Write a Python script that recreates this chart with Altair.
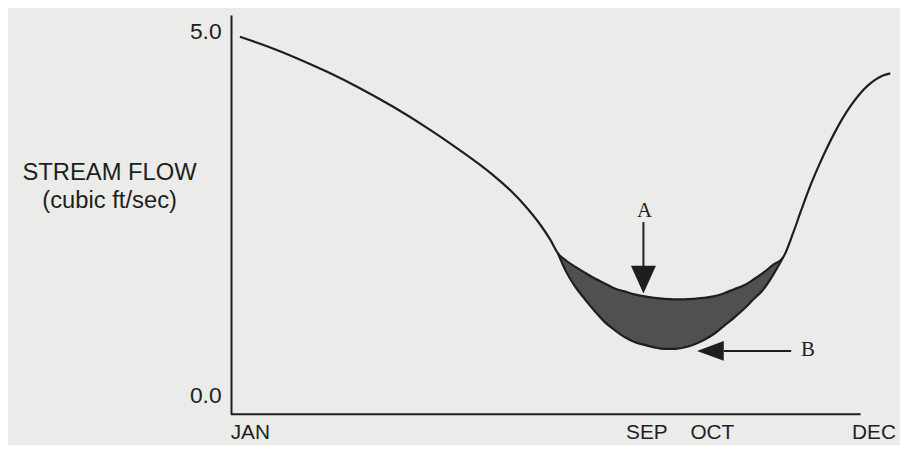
import altair as alt
import pandas as pd

# x: time of year in months (0 = axis origin, 12 = end of the axis line)
# y: stream flow (cubic ft/sec)

# falling limb of the hydrograph, before the shaded low-flow period
pre_t = [0.170, 0.699, 1.209, 1.833, 2.457, 3.099, 3.723, 4.346, 4.989, 5.329, 5.612, 5.896, 6.085]
pre_v = [4.932, 4.798, 4.651, 4.449, 4.224, 3.965, 3.686, 3.380, 3.033, 2.817, 2.602, 2.347, 2.143]

# low-flow period: curve A (upper) and curve B (lower)
shade_t = [6.236, 6.368, 6.557, 6.746, 6.935, 7.124, 7.313, 7.502, 7.691, 7.880, 8.069, 8.258,
           8.447, 8.636, 8.825, 9.013, 9.202, 9.391, 9.580, 9.769, 9.958, 10.147, 10.336, 10.525]
curve_a = [1.948, 1.866, 1.771, 1.689, 1.608, 1.540, 1.471, 1.431, 1.390, 1.362, 1.342, 1.328,
           1.322, 1.322, 1.328, 1.342, 1.362, 1.403, 1.458, 1.512, 1.594, 1.689, 1.798, 1.900]
curve_b = [1.948, 1.730, 1.499, 1.322, 1.158, 1.008, 0.899, 0.804, 0.736, 0.695, 0.661, 0.640,
           0.640, 0.661, 0.702, 0.763, 0.845, 0.954, 1.063, 1.185, 1.322, 1.458, 1.662, 1.900]

# rising limb after the low-flow period
post_t = [10.714, 10.865, 11.035, 11.187, 11.338, 11.508, 11.659, 11.810, 11.980, 12.131, 12.283, 12.415, 12.566]
post_v = [2.234, 2.540, 2.871, 3.132, 3.372, 3.617, 3.813, 3.982, 4.142, 4.256, 4.343, 4.396, 4.428]

# axes
month_labels = ["JAN", "SEP", "OCT", "DEC"]
month_pos = [0.359, 7.918, 9.165, 12.245]
x_axis_end = 12.0
y_ticks = [0.0, 5.0]
y_min, y_max = -0.259, 5.232
y_title = ["STREAM FLOW", "(cubic ft/sec)"]

# annotations
ann_labels = ["A", "B"]
ann_t = [7.880, 10.998]
ann_v = [2.534, 0.627]
shaft_t = [7.861, 9.392]
shaft_t2 = [7.861, 10.677]
shaft_v = [2.384, 0.613]
shaft_v2 = [1.757, 0.613]
head_a = {"t": [7.861], "v": [1.594]}
head_b = {"t": [9.137], "v": [0.613]}

INK = "#1e1e1e"
BG = "#ebebe9"

label_expr = " : ".join(f"datum.value == {p} ? '{l}'" for p, l in zip(month_pos, month_labels)) + " : ''"

x_enc = alt.X(
    "t:Q",
    scale=alt.Scale(domain=[0, 12.6], nice=False, zero=False),
    axis=alt.Axis(
        values=month_pos, labelExpr=label_expr, title=None, ticks=False, tickSize=0,
        grid=False, domain=False, labelFont="Liberation Sans",
        labelFontSize=21, labelColor=INK, labelPadding=7, labelOverlap=False,
        labelBound=False, labelFlush=False,
    ),
)
y_enc = alt.Y(
    "v:Q",
    scale=alt.Scale(domain=[y_min, y_max], nice=False, zero=False),
    axis=alt.Axis(
        values=y_ticks, format=".1f", ticks=False, tickSize=0, grid=False,
        domainColor=INK, domainWidth=2, labelFont="Liberation Sans", labelFontSize=23,
        labelColor=INK, labelPadding=10,
        title=y_title, titleAngle=0, titleAlign="center", titleBaseline="middle",
        titleX=-123, titleY=159, titleLineHeight=28, titleFont="Liberation Sans",
        titleFontSize=24, titleFontWeight="normal", titleColor=INK,
    ),
)

upper_df = pd.DataFrame({"t": pre_t + shade_t + post_t, "v": pre_v + curve_a + post_v})
shade_df = pd.DataFrame({"t": shade_t, "v": curve_a, "b": curve_b})
lower_df = pd.DataFrame({"t": shade_t, "v": curve_b})
ann_df = pd.DataFrame({"t": ann_t, "v": ann_v, "label": ann_labels})
shaft_df = pd.DataFrame({"t": shaft_t, "t2": shaft_t2, "v": shaft_v, "v2": shaft_v2})
xaxis_df = pd.DataFrame({"t": [0.0], "t2": [x_axis_end], "v": [y_min]})

xaxis_line = alt.Chart(xaxis_df).mark_rule(color=INK, strokeWidth=2).encode(
    x=x_enc, y=y_enc, x2="t2:Q"
)
area = alt.Chart(shade_df).mark_area(interpolate="monotone", color="#505050", opacity=1).encode(
    x=x_enc, y=y_enc, y2="b:Q"
)
upper = alt.Chart(upper_df).mark_line(interpolate="monotone", color=INK, strokeWidth=2.2).encode(
    x=x_enc, y=y_enc
)
lower = alt.Chart(lower_df).mark_line(interpolate="monotone", color=INK, strokeWidth=2.2).encode(
    x=x_enc, y=y_enc
)
shafts = alt.Chart(shaft_df).mark_rule(color=INK, strokeWidth=2).encode(
    x=x_enc, y=y_enc, x2="t2:Q", y2="v2:Q"
)
head_a_layer = alt.Chart(pd.DataFrame(head_a)).mark_point(
    shape="M -0.9 -1 L 0.9 -1 L 0 1 Z", size=784, filled=True, color=INK, opacity=1, strokeWidth=0
).encode(x=x_enc, y=y_enc)
head_b_layer = alt.Chart(pd.DataFrame(head_b)).mark_point(
    shape="M 1 -0.74 L 1 0.74 L -1 0 Z", size=729, filled=True, color=INK, opacity=1, strokeWidth=0
).encode(x=x_enc, y=y_enc)
texts = alt.Chart(ann_df).mark_text(
    font="Liberation Serif", fontSize=21, color=INK, align="center", baseline="middle"
).encode(x=x_enc, y=y_enc, text="label:N")

chart = alt.layer(xaxis_line, area, upper, lower, shafts, head_a_layer, head_b_layer, texts).properties(
    width=667,
    height=403,
    autosize=alt.AutoSizeParams(type="none"),
    padding={"left": 225, "top": 5, "right": 8, "bottom": 29},
    background=BG,
).configure_view(stroke=None)

chart.save("out.html", embed_options={"renderer": "svg", "actions": False})
